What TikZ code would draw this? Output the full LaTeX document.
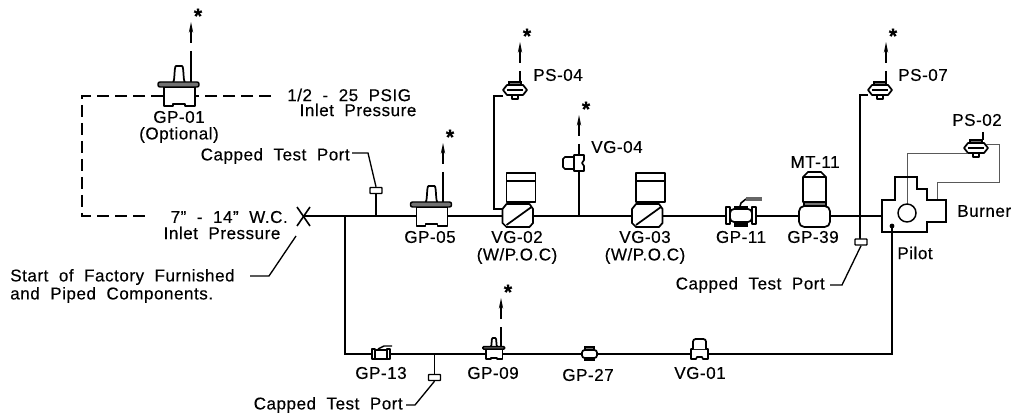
\documentclass[tikz,border=0pt]{standalone}
\usepackage{fontspec}
\setmainfont{Liberation Sans}[LetterSpace=3,WordSpace=2,FakeBold=0.3]
\usetikzlibrary{arrows.meta}

\begin{document}
\begin{tikzpicture}[x=0.75pt,y=-0.75pt,
	pipe/.style={line width=1.7pt},
	sense/.style={line width=1.2pt},
	thinline/.style={line width=0.7pt,black!65},
	symb/.style={line width=1.3pt,fill=white,line join=round},
	dark/.style={line width=1.1pt,fill=black!55},
	inlet line/.style={line width=1.1pt,dash pattern=on 9pt off 4.5pt},
	vent/.style={line width=1.1pt,-{Stealth[length=8pt,width=3.2pt]}},
	leader/.style={line width=1pt},
	lbl/.style={font=\fontsize{12.8}{13}\selectfont,inner sep=0pt},
	starmark/.style={font=\fontsize{16}{16}\selectfont\bfseries,inner sep=0pt},
	port/.style={draw,line width=1.1pt,fill=white,rounded corners=0.5pt,inner sep=0pt,minimum width=9pt,minimum height=4.5pt}]

	\useasboundingbox (0,0) rectangle (1012,416);
	\fill[white] (0,0) rectangle (1012,416);

	% Tie points on the piping
	\coordinate (inlet) at (303,216);
	\coordinate (burnerin) at (882,216);
	\coordinate (teelow) at (345,216);
	\coordinate (lowleft) at (345,354);
	\coordinate (lowright) at (892,354);
	\coordinate (pilotdot) at (892,226);
	\coordinate (optleft) at (82,96);
	\coordinate (optcorner) at (82,216);

	% Main gas train and pilot train
	\draw[pipe] (inlet) -- (burnerin);
	\draw[pipe] (teelow) -- (lowleft) -- (lowright) -- (pilotdot);
	\fill (pilotdot) circle (2.4);

	% Dashed inlet options
	\draw[inlet line] (271,96) -- (optleft) -- (optcorner) -- (149,216);

	% Inlet cross
	\draw[line width=1.2pt] (297,207) -- (310,226);
	\draw[line width=1.2pt] (310,207) -- (297,226);

	% Vents, last one is the symbol below
	\foreach \n/\x/\ytip/\ybot in {a/191/22/82,b/443/143/202,c/520/42/82,d/579/115/155,e/886/42/82,f/501/298/347} {
		\coordinate (vent\n) at (\x,\ytip);
		\draw[vent] (\x,\ytip+21) -- (vent\n);
		\draw[line width=1.1pt] (\x,\ytip+29) -- (\x,\ybot);
		\node[starmark] (star\n) at (\x+7,\ytip-6) {*};
	}
	\draw[line width=2.2pt] (191,66) -- (191,82);
	\draw[line width=2.2pt] (443,186) -- (443,202);
	\draw[line width=1.2pt] (983,132) -- (983,140);
	\draw[sense] (579,171) -- (579,216);

	% Regulators GP-01, GP-05, GP-09
	\foreach \x/\y/\s in {179/96/1,431.5/216/1,494/354/0.53} {
		\begin{scope}[shift={(\x,\y)},scale=\s]
			\draw[symb] (-15,-9) -- (-15,10) -- (-6,10) -- (-6,8) -- (6,8) -- (6,10) -- (16,10) -- (16,-9) -- cycle;
			\draw[symb] (-6,-14) .. controls (-4,-14) and (-5,-30) .. (-3,-30) -- (3,-30) .. controls (5,-30) and (4,-14) .. (6,-14);
			\draw[dark,rounded corners=\s*1.5pt] (-21,-14) rectangle (20,-9);
		\end{scope}
	}

	% Pressure switches
	\foreach \x/\y in {515/90,880/90,976/148} {
		\begin{scope}[shift={(\x,\y)}]
			\draw[dark] (-6,-8) rectangle (6,-4);
			\draw[symb] (-3,4) rectangle (3,9);
			\draw[symb] (-12,0) -- (-8,-5) -- (8,-5) -- (12,0) -- (8,5) -- (-8,5) -- cycle;
			\draw[line width=1.1pt] (-8,0) -- (8,0);
		\end{scope}
	}

	% Sensing lines
	\coordinate (psa) at (503,96);
	\coordinate (psb) at (868,95);
	\draw[sense] (psa) -- (494,96) -- (494,209) -- (503,209);
	\draw[sense] (psb) -- (860,95) -- (860,239);
	\draw[thinline] (907,204) -- (907,153) -- (967,153);
	\draw[thinline] (937,200) -- (937,182) -- (999,182) -- (999,144) -- (986,144);

	% Solenoid gas valves
	\foreach \x in {517.5,647} {
		\begin{scope}[shift={(\x,216)}]
			\draw[dark] (-9,-14) rectangle (10,-11);
			\draw[symb] (-11,-43) rectangle (18,-14);
			\draw[line width=1.3pt] (-11,-35) -- (18,-35);
			\draw[symb] (-15,-7) -- (-11,-12) -- (12,-12) -- (15.5,-7) -- (15.5,7) -- (12,11) -- (-11,11) -- (-15,7) -- cycle;
			\draw[line width=1.3pt] (-11,9) -- (14,-9);
		\end{scope}
	}

	% VG-04
	\draw[symb] (574,157) -- (565,157) -- (563,159) -- (563,167) -- (565,169) -- (574,169) -- cycle;
	\draw[symb] (574,155) -- (584,155) -- (584,160) -- (582,163) -- (584,166) -- (584,171) -- (574,171) -- cycle;

	% GP-11 ball valve
	\draw[dark] (735,224) rectangle (747,226);
	\draw[dark] (735,207) rectangle (747,209);
	\draw[line width=1.2pt] (740,206) -- (741,203) -- (746,199);
	\draw[line width=2.6pt,black!60] (746,199) -- (762,199);
	\draw[symb] (726,207) rectangle (730,224);
	\draw[symb] (752,207) rectangle (756,224);
	\draw[symb,rounded corners=3] (730,209) rectangle (752,222);

	% GP-39 and MT-11
	\draw[dark] (804,202) rectangle (826,206);
	\draw[symb,rounded corners=4] (799,206) rectangle (830,227);
	\draw[symb] (803,202) -- (803,177) -- (808,172) -- (821,172) -- (826,177) -- (826,202) -- cycle;
	\draw[line width=0.9pt] (803,177) -- (826,177);

	% Burner
	\draw[line width=1.6pt] (882,200) -- (895,200) -- (895,177) -- (917,177) -- (917,189) -- (927,189) -- (927,200) -- (946,200) -- (946,222) -- (927,222) -- (927,232) -- (882,232) -- cycle;
	\draw[line width=1.1pt] (907,213) circle (9);

	% Small valves on the pilot train
	\draw[symb,rounded corners=2] (373,350) rectangle (389,359);
	\draw[symb] (372,349) rectangle (375,359);
	\draw[symb] (387,349) rectangle (390,359);
	\draw[line width=1.1pt] (378,349) -- (384,346) -- (392,346);
	\draw[dark] (585,347) rectangle (594,350);
	\draw[dark] (585,358) rectangle (594,360);
	\draw[symb,rounded corners=2] (582,350) rectangle (597,358);
	\draw[symb] (691,349) -- (708,349) -- (708,359) -- (703,359) -- (702,357) -- (697,357) -- (696,359) -- (691,359) -- cycle;
	\draw[symb,rounded corners=2] (693,349) -- (693,339) -- (706,339) -- (706,349);

	% Capped test ports
	\node[port] (porta) at (376,190.5) {};
	\node[port] (portb) at (861,242) {};
	\node[port] (portc) at (434.5,377.5) {};
	\draw[line width=1.1pt] (porta.south) -- (porta.south |- inlet);
	\draw[line width=1.1pt] (portc.north) -- (portc.north |- lowleft);

	% Labels
	\node[lbl] (gpone) at (179,117) {GP-01};
	\node[lbl] (gponeb) at (179,135) {(Optional)};
	\node[lbl,anchor=west] (psig) at (287,95) {1/2 - 25 PSIG};
	\node[lbl] (psigb) at (358,110) {Inlet Pressure};
	\node[lbl,anchor=east] (capa) at (350,156) {Capped Test Port};
	\node[lbl,anchor=east] (wc) at (288,217) {7" - 14" W.C.};
	\node[lbl] (wcb) at (222,233) {Inlet Pressure};
	\node[lbl,anchor=west] (start) at (10,277) {Start of Factory Furnished};
	\node[lbl,anchor=west] (startb) at (10,295) {and Piped Components.};
	\node[lbl] (gpfive) at (430,237) {GP-05};
	\node[lbl] (vgtwo) at (517,237) {VG-02};
	\node[lbl] (vgtwob) at (517,256) {(W/P.O.C)};
	\node[lbl] (vgthree) at (645,237) {VG-03};
	\node[lbl] (vgthreeb) at (645,256) {(W/P.O.C)};
	\node[lbl,anchor=west] (psfour) at (533,75) {PS-04};
	\node[lbl,anchor=west] (vgfour) at (591,147) {VG-04};
	\node[lbl] (gpeleven) at (741,237) {GP-11};
	\node[lbl] (gpnine) at (813,237) {GP-39};
	\node[lbl] (mteleven) at (815,162) {MT-11};
	\node[lbl,anchor=west] (psseven) at (898,75) {PS-07};
	\node[lbl] (pstwo) at (977,120) {PS-02};
	\node[lbl,anchor=west] (burner) at (957,211) {Burner};
	\node[lbl] (pilot) at (915,253) {Pilot};
	\node[lbl,anchor=east] (capb) at (825,285) {Capped Test Port};
	\node[lbl] (gpthirteen) at (381,373) {GP-13};
	\node[lbl] (gpnineb) at (493,373) {GP-09};
	\node[lbl] (gptwentyseven) at (588,375) {GP-27};
	\node[lbl] (vgone) at (700,373) {VG-01};
	\node[lbl,anchor=east] (capc) at (403,405) {Capped Test Port};

	% Leaders
	\coordinate (kneea) at (368,153);
	\coordinate (kneeb) at (842,285);
	\coordinate (kneec) at (415,405);
	\coordinate (kneed) at (269,276);
	\draw[leader] (352,153) -- (kneea) -- (porta.north);
	\draw[leader] (capb.east) ++(5,0) -- (kneeb) -- (portb.south);
	\draw[leader] (capc.east) ++(3,0) -- (kneec) -- (portc.south);
	\draw[leader] (250,276) -- (kneed) -- (296,236);

\end{tikzpicture}
\end{document}
